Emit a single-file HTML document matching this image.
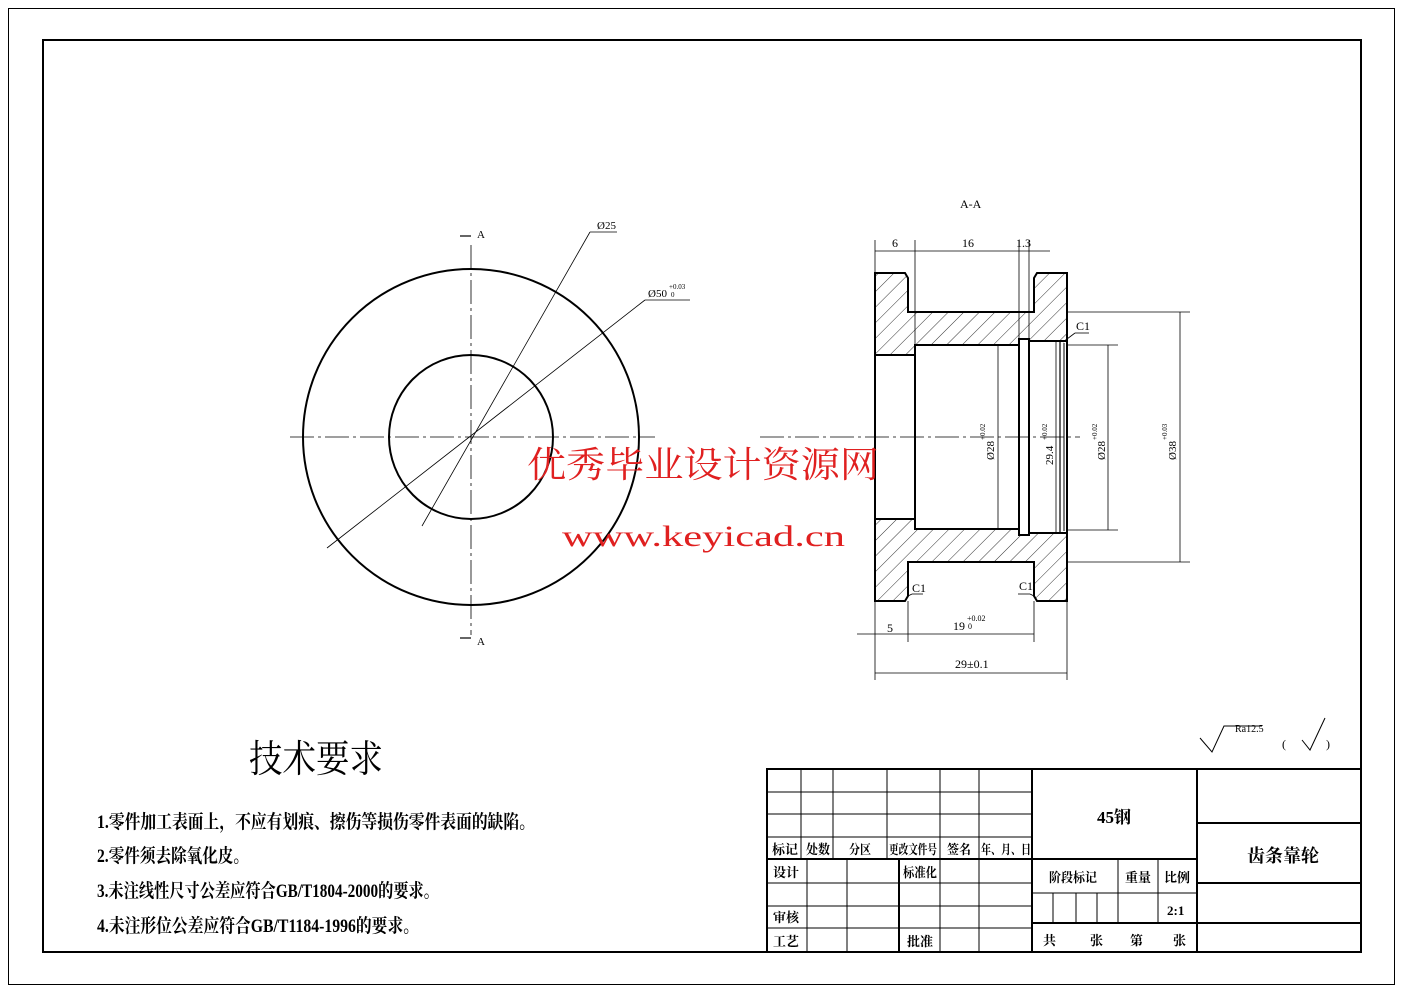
<!DOCTYPE html>
<html><head><meta charset="utf-8"><style>
html,body{margin:0;padding:0;background:#fff}
svg{display:block}
text{font-family:"Liberation Serif","Noto Serif CJK SC","Noto Sans CJK SC",serif;fill:#000}
</style></head><body>
<svg width="1403" height="992" viewBox="0 0 1403 992" xmlns="http://www.w3.org/2000/svg">
<defs>
<pattern id="h" patternUnits="userSpaceOnUse" width="11" height="11" patternTransform="rotate(45)">
<line x1="0" y1="0" x2="0" y2="11" stroke="#000" stroke-width="0.8"/>
</pattern>
</defs>
<rect x="8.5" y="8.5" width="1386" height="976" fill="none" stroke="#000" stroke-width="1"/>
<rect x="43" y="40" width="1318" height="912" fill="none" stroke="#000" stroke-width="2"/>

<!-- circle view -->
<g stroke="#000" fill="none">
<circle cx="471" cy="437" r="168" stroke-width="2"/>
<circle cx="471" cy="437" r="82" stroke-width="2"/>
<line x1="290" y1="437" x2="655" y2="437" stroke-width="0.8" stroke-dasharray="24,4,3,4"/>
<line x1="471" y1="245" x2="471" y2="635" stroke-width="0.8" stroke-dasharray="24,4,3,4"/>
<line x1="590" y1="232" x2="422" y2="526" stroke-width="0.8"/>
<line x1="590" y1="232" x2="617" y2="232" stroke-width="0.8"/>
<line x1="645" y1="300" x2="327" y2="548" stroke-width="0.8"/>
<line x1="645" y1="300" x2="690" y2="300" stroke-width="0.8"/>
<line x1="460" y1="236" x2="471" y2="236" stroke-width="1.2"/>
<line x1="460" y1="638" x2="471" y2="638" stroke-width="1.2"/>
</g>
<text x="477" y="238" font-size="11">A</text>
<text x="477" y="645" font-size="11">A</text>
<text x="597" y="229" font-size="11">Ø25</text>
<text x="648" y="297" font-size="11">Ø50</text>
<text x="669" y="289" font-size="7">+0.03</text>
<text x="671" y="297" font-size="7">0</text>

<!-- section view -->
<text x="960" y="208" font-size="12">A-A</text>
<g stroke="#000" stroke-width="2">
<polygon fill="url(#h)" points="875,273 905,273 908,278 908,312 1034,312 1034,278 1037,273 1067,273 1067,341 1029,341 1029,339 1019,339 1019,345 915,345 915,355 875,355"/>
<polygon fill="url(#h)" points="875,601 905,601 908,596 908,562 1034,562 1034,596 1037,601 1067,601 1067,533 1029,533 1029,535 1019,535 1019,529 915,529 915,519 875,519"/>
<line x1="875" y1="355" x2="875" y2="519"/>
<line x1="915" y1="345" x2="915" y2="529"/>
<line x1="1019" y1="339" x2="1019" y2="535"/>
<line x1="1029" y1="339" x2="1029" y2="535"/>
<line x1="1060" y1="341" x2="1060" y2="533" stroke-width="1.2"/>
<line x1="1064" y1="343" x2="1064" y2="531" stroke-width="1"/>
<line x1="1067" y1="341" x2="1067" y2="533"/>
</g>
<g stroke="#000" stroke-width="0.8" fill="none">
<line x1="760" y1="437" x2="1080" y2="437" stroke-dasharray="24,4,3,4"/>
<line x1="875" y1="240" x2="875" y2="273"/>
<line x1="915" y1="240" x2="915" y2="345"/>
<line x1="1019" y1="240" x2="1019" y2="339"/>
<line x1="1029" y1="240" x2="1029" y2="339"/>
<line x1="875" y1="251" x2="1050" y2="251"/>
<line x1="1067" y1="312" x2="1190" y2="312"/>
<line x1="1067" y1="562" x2="1190" y2="562"/>
<line x1="1180" y1="312" x2="1180" y2="562"/>
<line x1="1067" y1="345" x2="1118" y2="345"/>
<line x1="1067" y1="530" x2="1118" y2="530"/>
<line x1="1108" y1="345" x2="1108" y2="530"/>
<line x1="998" y1="345" x2="998" y2="529"/>
<line x1="1056" y1="341" x2="1056" y2="533"/>
<line x1="875" y1="601" x2="875" y2="680"/>
<line x1="908" y1="601" x2="908" y2="642"/>
<line x1="1034" y1="601" x2="1034" y2="642"/>
<line x1="1067" y1="601" x2="1067" y2="680"/>
<line x1="857" y1="634" x2="1034" y2="634"/>
<line x1="875" y1="673" x2="1067" y2="673"/>
<line x1="1063" y1="342" x2="1075" y2="333"/><line x1="1075" y1="333" x2="1089" y2="333"/>
<line x1="908" y1="596" x2="912" y2="594"/><line x1="912" y1="594" x2="923" y2="594"/>
<line x1="1034" y1="596" x2="1030" y2="594"/><line x1="1030" y1="594" x2="1018" y2="594"/>
</g>
<g font-size="12">
<text x="892" y="247">6</text>
<text x="962" y="247">16</text>
<text x="1016" y="247">1.3</text>
<text x="1076" y="330">C1</text>
<text x="912" y="592">C1</text>
<text x="1019" y="590">C1</text>
<text x="887" y="632">5</text>
<text x="953" y="630">19</text><text x="967" y="621" font-size="8">+0.02</text><text x="968" y="629" font-size="8">0</text>
<text x="955" y="668">29±0.1</text>
</g>
<g font-size="11">
<text transform="translate(994,460) rotate(-90)">Ø28</text><text transform="translate(985,440) rotate(-90)" font-size="7">+0.02</text>
<text transform="translate(1053,465) rotate(-90)">29.4</text><text transform="translate(1047,440) rotate(-90)" font-size="7">+0.02</text>
<text transform="translate(1105,460) rotate(-90)">Ø28</text><text transform="translate(1097,440) rotate(-90)" font-size="7">+0.02</text>
<text transform="translate(1176,460) rotate(-90)">Ø38</text><text transform="translate(1167,440) rotate(-90)" font-size="7">+0.03</text>
</g>

<!-- watermark -->
<text x="527" y="477" font-size="36" style="fill:#e02020" textLength="352" lengthAdjust="spacingAndGlyphs">优秀毕业设计资源网</text>
<text x="562" y="546" font-size="30" style="fill:#e02020" textLength="283" lengthAdjust="spacingAndGlyphs">www.keyicad.cn</text>

<!-- roughness -->
<g stroke="#000" stroke-width="1" fill="none">
<polyline points="1200,738 1212,752 1224,726 1262,726"/>
<polyline points="1302,740 1310,750 1325,718"/>
</g>
<text x="1235" y="732" font-size="10">Ra12.5</text>
<text x="1282" y="748" font-size="12">(</text><text x="1326" y="748" font-size="12">)</text>

<!-- tech requirements -->
<text x="249" y="772" font-size="38" textLength="134" lengthAdjust="spacingAndGlyphs">技术要求</text>
<g font-size="19" font-weight="bold">
<text x="97" y="828" textLength="438" lengthAdjust="spacingAndGlyphs">1.零件加工表面上，不应有划痕、擦伤等损伤零件表面的缺陷。</text>
<text x="97" y="862" textLength="152" lengthAdjust="spacingAndGlyphs">2.零件须去除氧化皮。</text>
<text x="97" y="897" textLength="342" lengthAdjust="spacingAndGlyphs">3.未注线性尺寸公差应符合GB/T1804-2000的要求。</text>
<text x="97" y="932" textLength="322" lengthAdjust="spacingAndGlyphs">4.未注形位公差应符合GB/T1184-1996的要求。</text>
</g>

<!-- title block -->
<g stroke="#000" fill="none">
<rect x="767" y="769" width="594" height="183" stroke-width="2"/>
<line x1="1032" y1="769" x2="1032" y2="952" stroke-width="2"/>
<line x1="1197" y1="769" x2="1197" y2="952" stroke-width="2"/>
<line x1="767" y1="859" x2="1032" y2="859" stroke-width="2"/>
<g stroke-width="1">
<line x1="767" y1="792" x2="1032" y2="792"/>
<line x1="767" y1="814" x2="1032" y2="814"/>
<line x1="767" y1="837" x2="1032" y2="837"/>
<line x1="801" y1="769" x2="801" y2="859"/>
<line x1="833" y1="769" x2="833" y2="859"/>
<line x1="887" y1="769" x2="887" y2="859"/>
<line x1="940" y1="769" x2="940" y2="859"/>
<line x1="979" y1="769" x2="979" y2="859"/>
<line x1="767" y1="883" x2="1032" y2="883"/>
<line x1="767" y1="906" x2="1032" y2="906"/>
<line x1="767" y1="928" x2="1032" y2="928"/>
<line x1="807" y1="859" x2="807" y2="952"/>
<line x1="847" y1="859" x2="847" y2="952"/>
<line x1="899" y1="859" x2="899" y2="952" stroke-width="2"/>
<line x1="940" y1="859" x2="940" y2="952"/>
<line x1="979" y1="859" x2="979" y2="952"/>
<line x1="1032" y1="893" x2="1197" y2="893"/>
<line x1="1118" y1="859" x2="1118" y2="923"/>
<line x1="1158" y1="859" x2="1158" y2="923"/>
<line x1="1053" y1="893" x2="1053" y2="923"/>
<line x1="1076" y1="893" x2="1076" y2="923"/>
<line x1="1097" y1="893" x2="1097" y2="923"/>
</g>
<line x1="1032" y1="859" x2="1197" y2="859" stroke-width="2"/>
<line x1="1032" y1="923" x2="1197" y2="923" stroke-width="2"/>
<line x1="1197" y1="823" x2="1361" y2="823" stroke-width="2"/>
<line x1="1197" y1="883" x2="1361" y2="883" stroke-width="2"/>
<line x1="1197" y1="923" x2="1361" y2="923" stroke-width="2"/>
</g>
<g font-size="13" font-weight="bold">
<text x="772" y="854" textLength="26" lengthAdjust="spacingAndGlyphs">标记</text><text x="806" y="854" textLength="24" lengthAdjust="spacingAndGlyphs">处数</text><text x="849" y="854" textLength="22" lengthAdjust="spacingAndGlyphs">分区</text>
<text x="889" y="854" textLength="48" lengthAdjust="spacingAndGlyphs">更改文件号</text><text x="947" y="854" textLength="24" lengthAdjust="spacingAndGlyphs">签名</text><text x="981" y="854" textLength="50" lengthAdjust="spacingAndGlyphs">年、月、日</text>
<text x="773" y="877">设计</text><text x="903" y="877" textLength="34" lengthAdjust="spacingAndGlyphs">标准化</text>
<text x="773" y="922">审核</text><text x="773" y="946">工艺</text><text x="907" y="946">批准</text>
<text x="1049" y="882" textLength="48" lengthAdjust="spacingAndGlyphs">阶段标记</text><text x="1125" y="882">重量</text><text x="1164" y="882">比例</text>
<text x="1167" y="915">2:1</text>
<text x="1043" y="945">共</text><text x="1090" y="945">张</text><text x="1130" y="945">第</text><text x="1173" y="945">张</text>
</g>
<text x="1097" y="823" font-size="17" font-weight="bold">45钢</text>
<text x="1247" y="862" font-size="18" font-weight="bold">齿条靠轮</text>
</svg>
</body></html>
